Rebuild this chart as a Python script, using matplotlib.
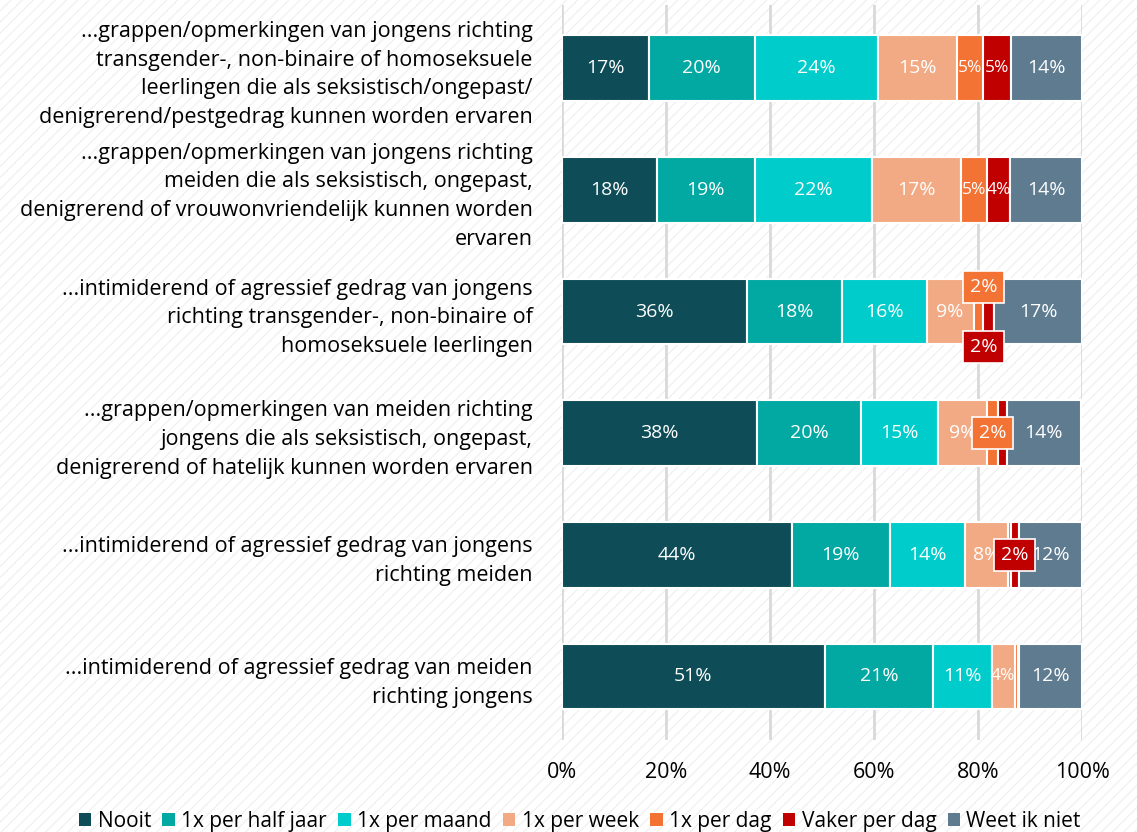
import matplotlib.pyplot as plt
from matplotlib.patches import Patch, Rectangle

plt.rcParams['font.family'] = ['Open Sans', 'DejaVu Sans']
plt.rcParams['hatch.linewidth'] = 0.9

# categories, top to bottom
categories = [
    "...grappen/opmerkingen van jongens richting\ntransgender-, non-binaire of homoseksuele\nleerlingen die als seksistisch/ongepast/\ndenigrerend/pestgedrag kunnen worden ervaren",
    "...grappen/opmerkingen van jongens richting\nmeiden die als seksistisch, ongepast,\ndenigrerend of vrouwonvriendelijk kunnen worden\nervaren",
    "...intimiderend of agressief gedrag van jongens\nrichting transgender-, non-binaire of\nhomoseksuele leerlingen",
    "...grappen/opmerkingen van meiden richting\njongens die als seksistisch, ongepast,\ndenigrerend of hatelijk kunnen worden ervaren",
    "...intimiderend of agressief gedrag van jongens\nrichting meiden",
    "...intimiderend of agressief gedrag van meiden\nrichting jongens",
]

series_names = ["Nooit", "1x per half jaar", "1x per maand", "1x per week",
                "1x per dag", "Vaker per dag", "Weet ik niet"]
colors = ["#0E4D57", "#02A8A2", "#00CDCB", "#F2AA84", "#F37335", "#C00000", "#5E7B90"]

nooit      = [16.7, 18.3, 35.6, 37.5, 44.2, 50.6]
half_jaar  = [20.4, 18.8, 18.3, 20.0, 18.8, 20.8]
maand      = [23.7, 22.4, 16.2, 14.8, 14.4, 11.2]
week       = [15.2, 17.2,  9.0,  9.4,  8.3,  4.4]
dag        = [ 5.0,  5.0,  1.9,  2.1,  0.5,  0.6]
vaker      = [ 5.2,  4.3,  2.1,  1.7,  1.6,  0.3]
weet_niet  = [13.8, 14.0, 16.9, 14.2, 12.2, 12.1]
values = [nooit, half_jaar, maand, week, dag, vaker, weet_niet]

# labels shown as callout boxes instead of inside the bar: (row, series, offset)
callouts = [(2, 4, -0.2), (2, 5, 0.29), (3, 4, 0.0), (4, 5, 0.0)]
no_label = {(3, 5), (4, 4), (5, 4), (5, 5)}

fig = plt.figure(figsize=(11.37, 8.32), dpi=100)
fig.patches.append(Rectangle((0, 0), 1, 1, transform=fig.transFigure, facecolor='white',
                             edgecolor='#f0f0f0', hatch='///', linewidth=0, zorder=-10))
ax = fig.add_axes([0.494, 0.111, 0.458, 0.883])
ax.set_facecolor('none')

ypos = list(range(len(categories)))
left = [0.0] * len(categories)
for s, vals in enumerate(values):
    ax.barh(ypos, vals, left=left, height=0.54, color=colors[s],
            edgecolor='white', linewidth=1.5, zorder=3)
    for r, v in enumerate(vals):
        if (r, s) in no_label or any(c[0] == r and c[1] == s for c in callouts):
            continue
        # narrow segments get a slightly smaller label
        fs = 12.5 if v < 6 else 14
        ax.text(left[r] + v / 2, r, f"{round(v):.0f}%", ha='center', va='center',
                color='white', fontsize=fs, zorder=4)
    left = [l + v for l, v in zip(left, vals)]

for r, s, off in callouts:
    start = sum(values[k][r] for k in range(s))
    if off != 0:
        # both small segments in this row share one x position
        xc = sum(values[k][r] for k in range(5))
    else:
        xc = start + values[s][r] / 2
    ax.text(xc, r + off, f"{round(values[s][r]):.0f}%", ha='center', va='center',
            color='white', fontsize=14, zorder=6,
            bbox=dict(boxstyle='square,pad=0.35', facecolor=colors[s], edgecolor='white', linewidth=1.2))

ax.set_xlim(0, 100)
ax.set_ylim(5.52, -0.52)
ax.set_xticks([0, 20, 40, 60, 80, 100])
ax.set_xticklabels([f"{t}%" for t in [0, 20, 40, 60, 80, 100]], fontsize=15.5)
ax.set_yticks(ypos)
ax.set_yticklabels(categories, fontsize=15.5, linespacing=1.48)
ax.tick_params(axis='x', length=0, pad=16, colors='black')
ax.tick_params(axis='y', length=0, pad=21)
ax.grid(axis='x', color='#d9d9d9', linewidth=2, zorder=0)
for sp in ax.spines.values():
    sp.set_visible(False)

handles = [Patch(facecolor=c, edgecolor='none') for c in colors]
fig.legend(handles, series_names, loc='center', bbox_to_anchor=(0.51, 0.013), ncol=7,
           frameon=False, fontsize=15, handlelength=0.6, handleheight=0.6,
           handletextpad=0.3, columnspacing=0.55)

fig.savefig("out.png", dpi=100)
